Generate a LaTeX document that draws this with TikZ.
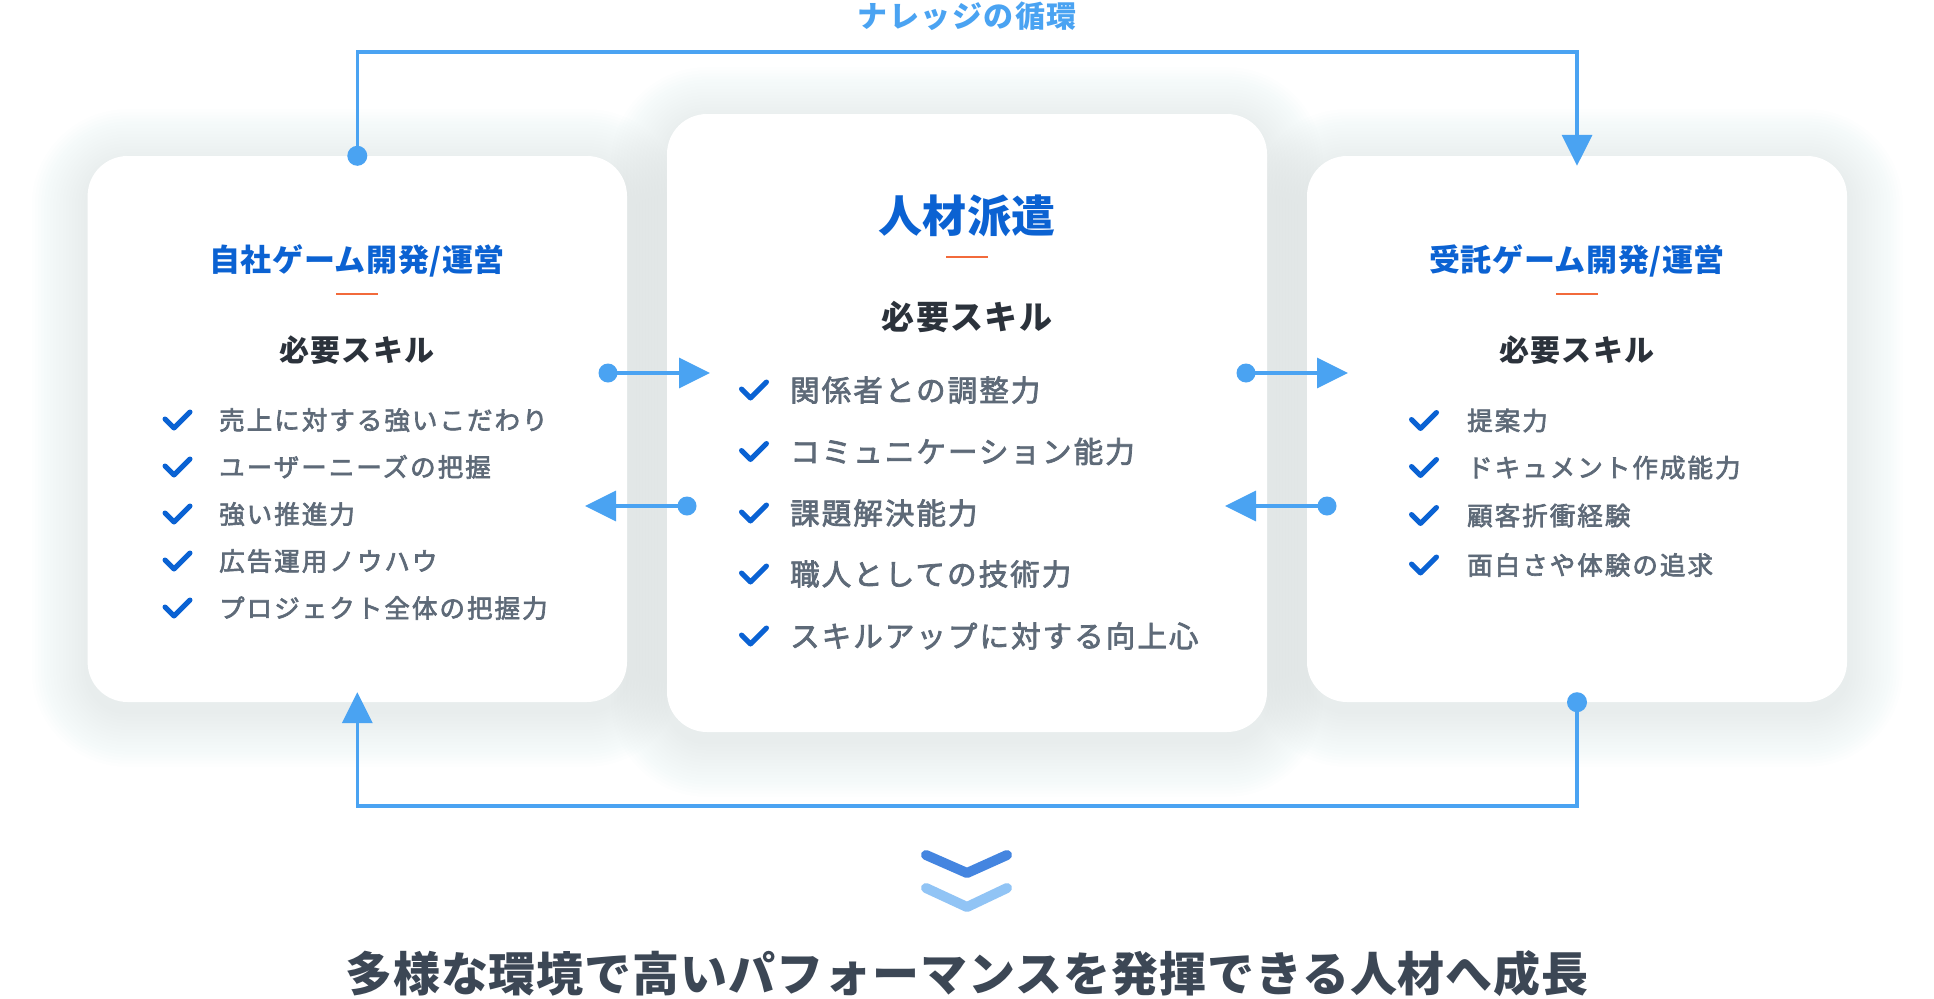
\documentclass[tikz,border=0pt]{standalone}
\usepackage{fontspec}
\setmainfont{Noto Sans CJK JP}
\newfontfamily\jpmed[FakeBold=2.5]{Noto Sans CJK JP}
\usetikzlibrary{arrows.meta,calc}
\definecolor{lineblue}{HTML}{4AA3F2}
\definecolor{ttlblue}{HTML}{0B62D2}
\definecolor{chkblue}{HTML}{0A62D3}
\definecolor{orng}{HTML}{F26A3B}
\definecolor{headdark}{HTML}{2B323B}
\definecolor{itemgray}{HTML}{5E6A78}
\definecolor{bottomtxt}{HTML}{3C4755}
\definecolor{chevdark}{HTML}{4485E0}
\definecolor{chevlight}{HTML}{91C4F5}
\definecolor{shadowcol}{RGB}{118,128,134}
\begin{document}
\begin{tikzpicture}[x=1pt,y=-1pt,
  card/.style={fill=white, rounded corners=40pt, inner sep=0pt, draw=none},
  conn/.style={draw=lineblue, line width=3.5pt},
  tip/.style={-{Triangle[width=30pt,length=31pt]}},
  toplabel/.style={anchor=base, inner sep=0pt, text=lineblue, font=\bfseries\fontsize{30pt}{30pt}\selectfont\addfontfeatures{LetterSpace=5}},
  sidettl/.style={anchor=base, inner sep=0pt, text=ttlblue, font=\bfseries\fontsize{31pt}{31pt}\selectfont\addfontfeatures{LetterSpace=2}},
  midttl/.style={anchor=base, inner sep=0pt, text=ttlblue, font=\bfseries\fontsize{44pt}{44pt}\selectfont\addfontfeatures{LetterSpace=1}},
  sidehead/.style={anchor=base, inner sep=0pt, text=headdark, font=\bfseries\fontsize{30pt}{30pt}\selectfont\addfontfeatures{LetterSpace=4}},
  midhead/.style={anchor=base, inner sep=0pt, text=headdark, font=\bfseries\fontsize{33pt}{33pt}\selectfont\addfontfeatures{LetterSpace=4}},
  sideitem/.style={anchor=base west, inner sep=0pt, text=itemgray, font=\jpmed\fontsize{25.5pt}{25.5pt}\selectfont\addfontfeatures{LetterSpace=8}},
  miditem/.style={anchor=base west, inner sep=0pt, text=itemgray, font=\jpmed\fontsize{29.5pt}{29.5pt}\selectfont\addfontfeatures{LetterSpace=7}},
  bottomtext/.style={anchor=base, inner sep=0pt, text=bottomtxt, font=\bfseries\fontsize{47pt}{47pt}\selectfont\addfontfeatures{LetterSpace=2}},
  accent/.style={draw=orng, line width=2.5pt},
  checkline/.style={draw=chkblue, line width=5pt, line cap=round, line join=round},
  chk/.pic={\draw[checkline] (-12,-1) -- (-3,8) -- (13,-8);},
  chev/.style={line width=10pt, line cap=round, line join=round}
]
\useasboundingbox (0,0) rectangle (1934,998);
\fill[white] (0,0) rectangle (1934,998);

% soft shadows under the cards
\foreach \bx/\by/\ex/\ey in {87.6/156/627/702, 667/114/1267/732, 1307/156/1847/702}{
  \foreach \i in {1,...,18}{
    \pgfmathsetmacro\rr{40+\i*3.1}
    \fill[shadowcol, opacity=0.0065, rounded corners=\rr pt]
      (\bx-\i*3.1, \by-\i*3.1+9) rectangle (\ex+\i*3.1, \ey+\i*3.1+9);
  }
}

% cards
\node[card, minimum width=539.4pt, minimum height=546pt] (L) at (357.3,429) {};
\node[card, minimum width=600pt, minimum height=618pt] (C) at (967,423) {};
\node[card, minimum width=540pt, minimum height=546pt] (R) at (1577,429) {};

% top loop label
\node[toplabel] (loop) at (967,27.4) {ナレッジの循環};

% left card
\node[sidettl] (Lt) at (357,271) {自社ゲーム開発/運営};
\draw[accent] (336,294) -- (378,294);
\node[sidehead] (Lh) at (357,361.4) {必要スキル};
\foreach \yy/\tx [count=\k] in {420/売上に対する強いこだわり, 467/ユーザーニーズの把握, 514/強い推進力, 561/広告運用ノウハウ, 608/プロジェクト全体の把握力}{
  \pic at (177,\yy) {chk};
  \node[sideitem] (Li\k) at (219,\yy+9.7) {\tx};
}

% center card
\node[midttl] (Ct) at (967,232.7) {人材派遣};
\draw[accent] (946,257) -- (988,257);
\node[midhead] (Ch) at (967,329.5) {必要スキル};
\foreach \yy/\tx [count=\k] in {390/関係者との調整力, 451.5/コミュニケーション能力, 513/課題解決能力, 574/職人としての技術力, 636/スキルアップに対する向上心}{
  \pic at (753.5,\yy) {chk};
  \node[miditem] (Ci\k) at (790,\yy+11.2) {\tx};
}

% right card
\node[sidettl] (Rt) at (1577,271) {受託ゲーム開発/運営};
\draw[accent] (1556,294) -- (1598,294);
\node[sidehead] (Rh) at (1577,361.4) {必要スキル};
\foreach \yy/\tx [count=\k] in {420.5/提案力, 467.5/ドキュメント作成能力, 515.5/顧客折衝経験, 565/面白さや体験の追求}{
  \pic at (1423.5,\yy) {chk};
  \node[sideitem] (Ri\k) at (1467,\yy+9.7) {\tx};
}

% knowledge loop connectors
\fill[lineblue] (L.north) circle (10);
\draw[conn, tip] (L.north) |- ($(R.north)+(0,-104)$) -- ($(R.north)+(0,10)$);
\fill[lineblue] (R.south) circle (10);
\draw[conn, tip] (R.south) |- ($(L.south)+(0,104)$) -- ($(L.south)+(0,-10)$);

% exchange arrows
\coordinate (a1s) at (608,373);  \coordinate (a1e) at (710,373);
\coordinate (a2s) at (1246,373); \coordinate (a2e) at (1348,373);
\coordinate (a3s) at (687,506);  \coordinate (a3e) at (585,506);
\coordinate (a4s) at (1327,506); \coordinate (a4e) at (1225,506);
\foreach \p in {a1,a2,a3,a4}{
  \fill[lineblue] (\p s) circle (9.5);
  \draw[conn, tip] (\p s) -- (\p e);
}

% chevrons
\draw[chev, chevdark] (926,855) -- (967,873) -- (1007,855);
\draw[chev, chevlight] (926,888) -- (967,907) -- (1007,888);

% conclusion
\node[bottomtext] (concl) at (967,991) {多様な環境で高いパフォーマンスを発揮できる人材へ成長};
\end{tikzpicture}
\end{document}
